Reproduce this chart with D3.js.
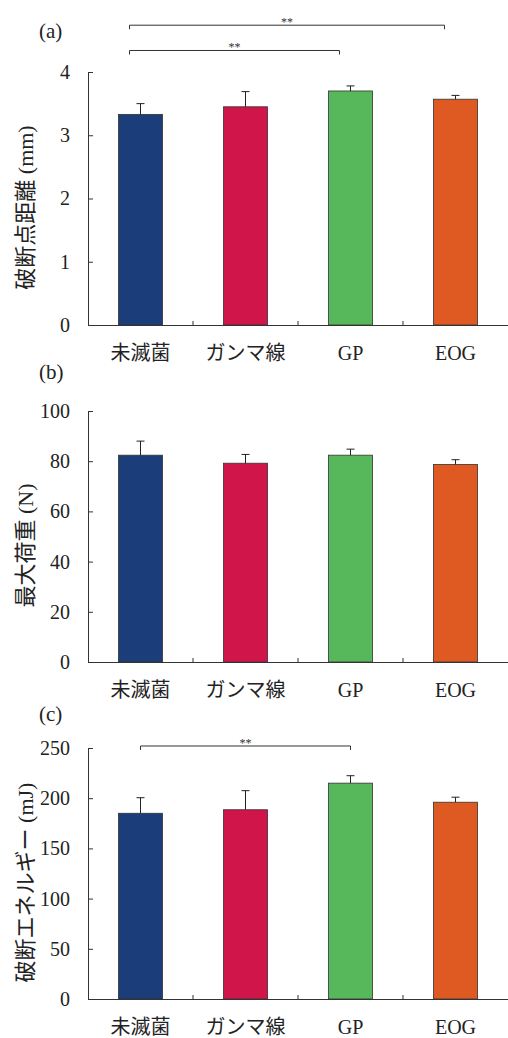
<!DOCTYPE html>
<html>
<head>
<meta charset="utf-8">
<script src="https://cdn.jsdelivr.net/npm/d3@7/dist/d3.min.js"></script>
<style>
  body { margin: 0; background: #fff; }
</style>
</head>
<body>
<svg id="chart" width="508" height="1038"></svg>
<script>
const categories = ['未滅菌', 'ガンマ線', 'GP', 'EOG'];
const colors = ['#1b3d7a', '#d0154b', '#56b85b', '#de5a22'];

// (a) 破断点距離
const breakDistance = [3.33, 3.45, 3.70, 3.57];
const breakDistanceSD = [0.17, 0.24, 0.08, 0.06];
// (b) 最大荷重
const maxLoad = [82.4, 79.2, 82.4, 78.7];
const maxLoadSD = [5.6, 3.5, 2.4, 1.9];
// (c) 破断エネルギー
const breakEnergy = [185, 188.5, 215, 196];
const breakEnergySD = [15.5, 19, 7.4, 5];

const ticksA = [0, 1, 2, 3, 4];
const ticksB = [0, 20, 40, 60, 80, 100];
const ticksC = [0, 50, 100, 150, 200, 250];

// significance brackets: [from index, to index, level in data units]
const sigA = [[0, 3, 4.74], [0, 2, 4.34]];
const sigC = [[0, 2, 252]];

const FONT = "'Liberation Serif', 'Noto Sans CJK JP', serif";

const panels = [
  { label: '(a)', labelY: 31, title: '破断点距離 (mm)', values: breakDistance, sd: breakDistanceSD,
    max: 4, ticks: ticksA, top: 72, bottom: 325, sig: sigA, sigShift: -11 },
  { label: '(b)', labelY: 372, title: '最大荷重 (N)', values: maxLoad, sd: maxLoadSD,
    max: 100, ticks: ticksB, top: 411, bottom: 662, sig: [], sigShift: 0 },
  { label: '(c)', labelY: 714, title: '破断エネルギー (mJ)', values: breakEnergy, sd: breakEnergySD,
    max: 250, ticks: ticksC, top: 748, bottom: 999, sig: sigC, sigShift: 0 }
];

const svg = d3.select('#chart');
const left = 88, right = 508;

const x = d3.scaleBand()
  .domain(categories)
  .range([left, right])
  .paddingInner(0.58)
  .paddingOuter(0.29);

panels.forEach(function(p) {
  const y = d3.scaleLinear().domain([0, p.max]).range([p.bottom, p.top]);
  const g = svg.append('g');

  // bars
  g.selectAll('rect.bar')
    .data(p.values)
    .enter().append('rect')
    .attr('class', 'bar')
    .attr('x', (d, i) => x(categories[i]))
    .attr('y', d => y(d))
    .attr('width', x.bandwidth())
    .attr('height', d => y(0) - y(d))
    .attr('fill', (d, i) => colors[i])
    .attr('stroke', '#333')
    .attr('stroke-width', 0.8);

  // error bars (upper only)
  const cx = i => x(categories[i]) + x.bandwidth() / 2;
  p.values.forEach(function(v, i) {
    g.append('line')
      .attr('x1', cx(i)).attr('x2', cx(i))
      .attr('y1', y(v)).attr('y2', y(v + p.sd[i]))
      .attr('stroke', '#222').attr('stroke-width', 1);
    g.append('line')
      .attr('x1', cx(i) - 4).attr('x2', cx(i) + 4)
      .attr('y1', y(v + p.sd[i])).attr('y2', y(v + p.sd[i]))
      .attr('stroke', '#222').attr('stroke-width', 1);
  });

  // y axis, ticks pointing inward
  const yAxis = g.append('g')
    .attr('transform', 'translate(' + left + ',0)')
    .call(d3.axisLeft(y).tickValues(p.ticks).tickFormat(d3.format('d'))
      .tickSizeInner(-5).tickSizeOuter(0).tickPadding(18));
  yAxis.attr('font-family', null).attr('font-size', null);
  yAxis.selectAll('text').style('font-family', FONT).style('font-size', '20px').attr('fill', '#222');
  yAxis.selectAll('line, path').attr('stroke', '#333');

  // x axis
  const xAxis = g.append('g')
    .attr('transform', 'translate(0,' + p.bottom + ')')
    .call(d3.axisBottom(x).tickSize(0).tickSizeOuter(0).tickPadding(21));
  xAxis.attr('font-family', null).attr('font-size', null);
  xAxis.selectAll('text').style('font-family', FONT).style('font-size', '20px').attr('fill', '#222');
  xAxis.select('path').attr('stroke', '#333');

  // small upward ticks between categories
  d3.range(1, categories.length).forEach(function(k) {
    const bx = left + k * x.step();
    g.append('line')
      .attr('x1', bx).attr('x2', bx)
      .attr('y1', p.bottom).attr('y2', p.bottom - 4)
      .attr('stroke', '#333');
  });

  // axis title
  g.append('text')
    .attr('transform', 'translate(25,' + ((p.top + p.bottom) / 2 + 9) + ') rotate(-90)')
    .attr('text-anchor', 'middle')
    .attr('dominant-baseline', 'central')
    .attr('fill', '#222')
    .style('font-family', FONT)
    .style('font-size', '22px')
    .text(p.title);

  // panel label
  g.append('text')
    .attr('x', 39)
    .attr('y', p.labelY)
    .attr('dy', '0.35em')
    .attr('fill', '#222')
    .style('font-family', FONT)
    .style('font-size', '21px')
    .text(p.label);

  // significance brackets
  p.sig.forEach(function(s) {
    const x1 = cx(s[0]) + p.sigShift, x2 = cx(s[1]) + p.sigShift, by = y(s[2]);
    g.append('path')
      .attr('d', 'M' + x1 + ',' + (by + 4) + 'V' + by + 'H' + x2 + 'V' + (by + 4))
      .attr('fill', 'none')
      .attr('stroke', '#333')
      .attr('stroke-width', 1);
    g.append('text')
      .attr('x', (x1 + x2) / 2)
      .attr('y', by + 1)
      .attr('text-anchor', 'middle')
      .attr('fill', '#333')
      .style('font-family', FONT)
      .style('font-size', '12px')
      .text('**');
  });
});
</script>
</body>
</html>
